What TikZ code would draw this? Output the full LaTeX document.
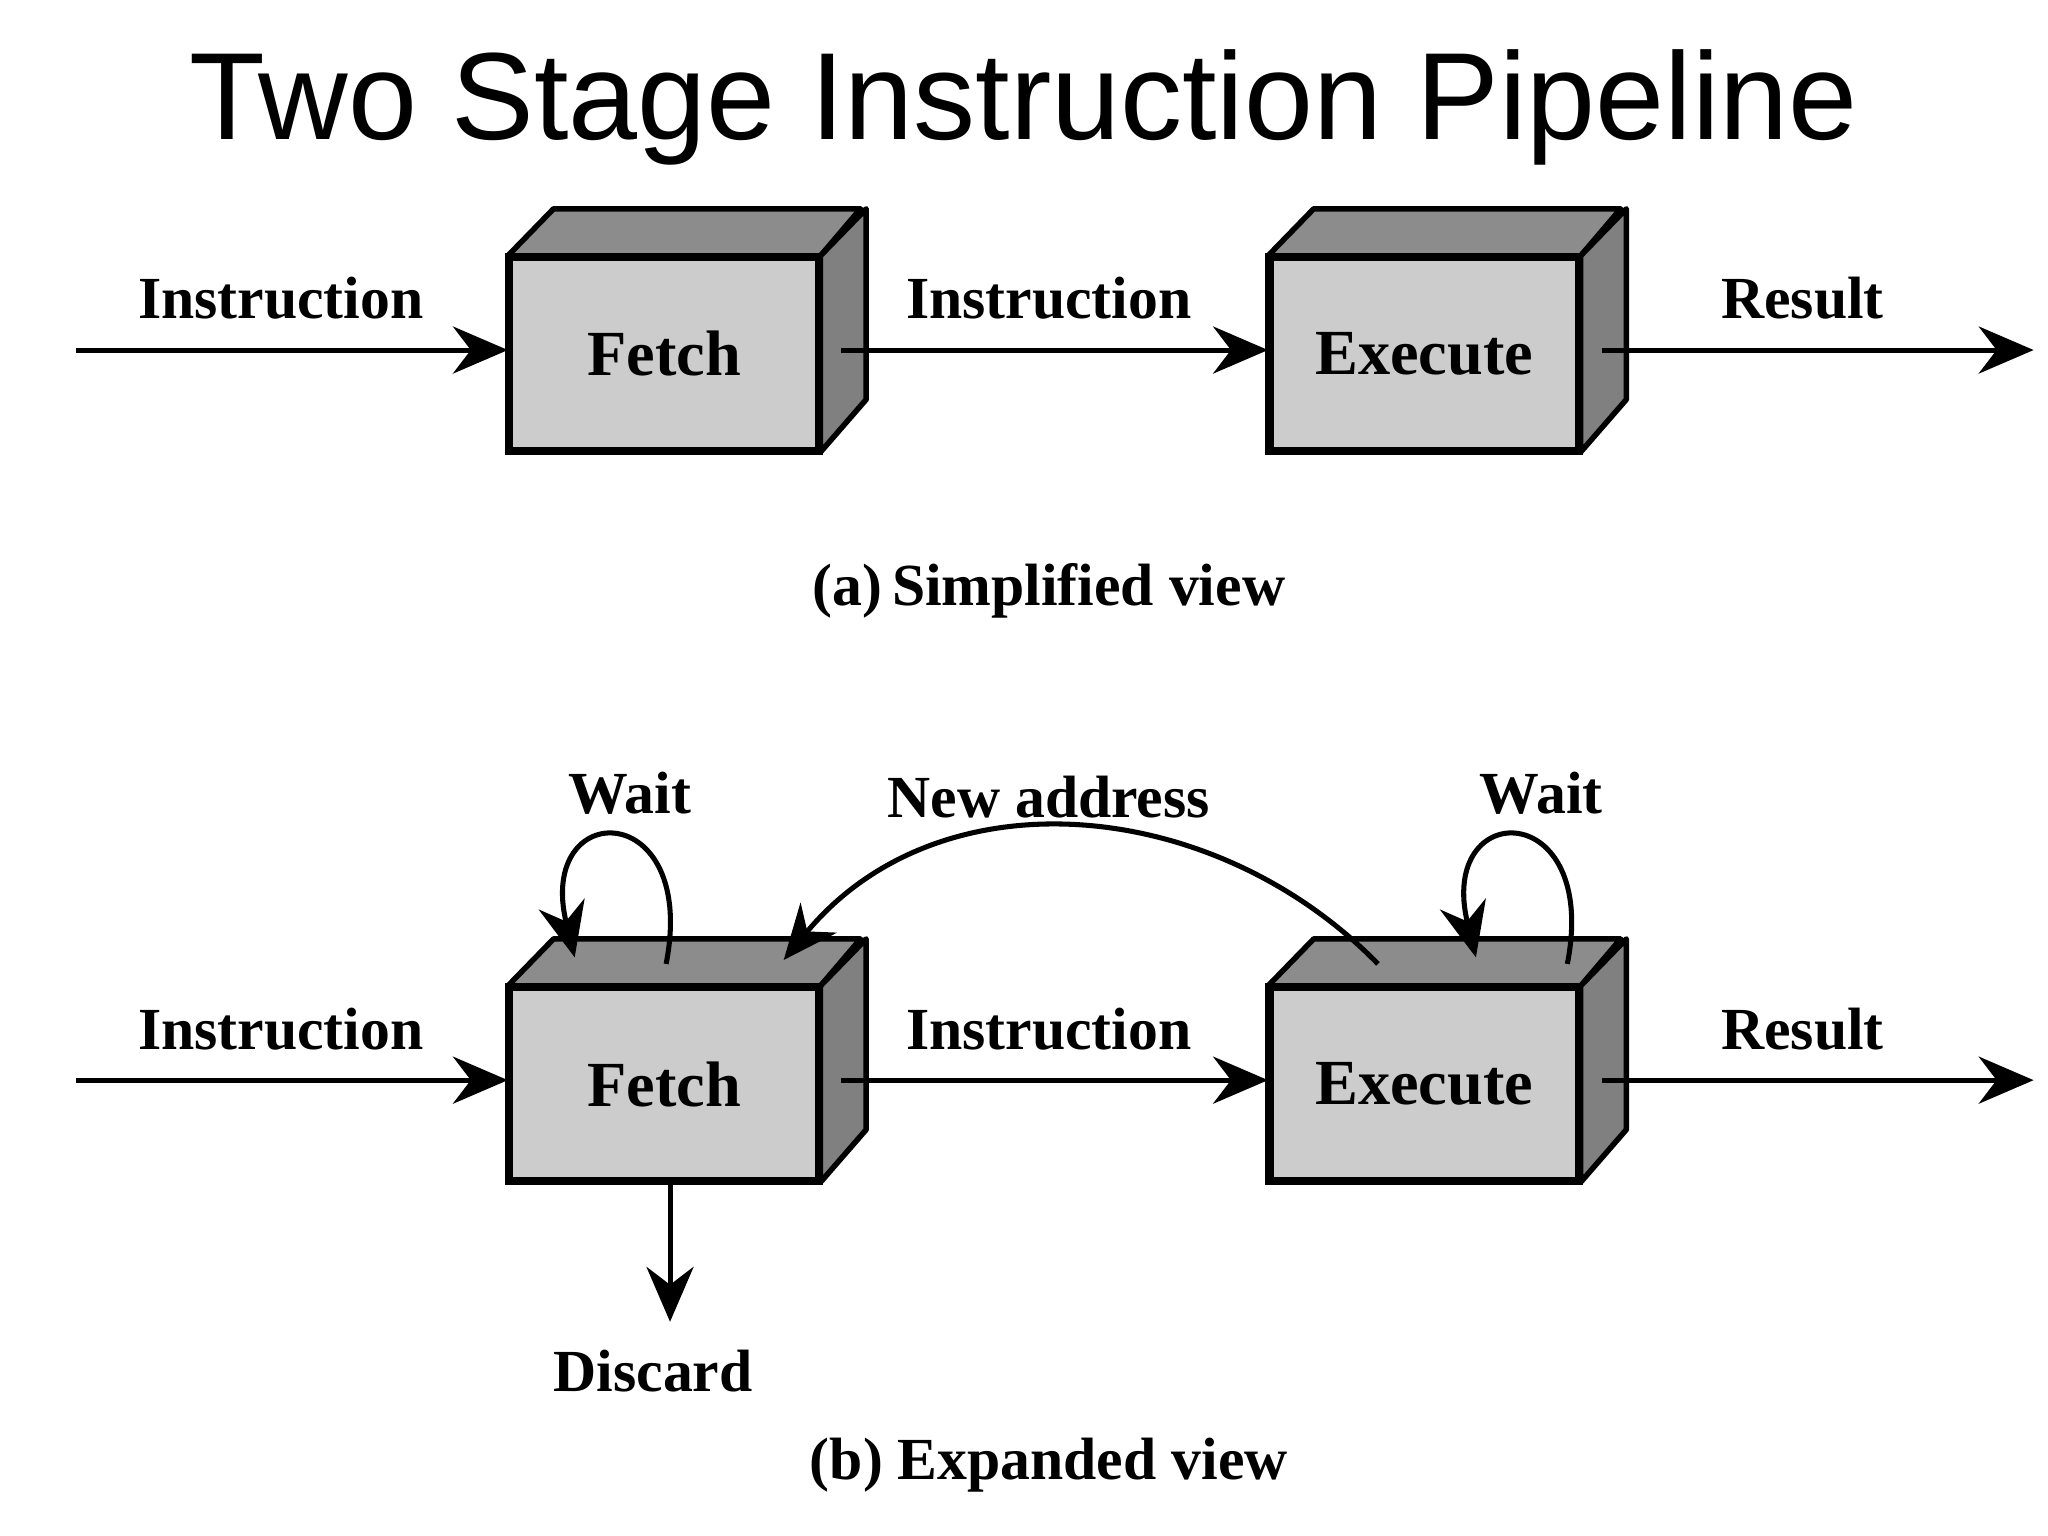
\documentclass[tikz,border=0pt]{standalone}
\usepackage{fontspec}
\setmainfont{Liberation Serif}
\newfontfamily\titlefont{Liberation Sans}
\usetikzlibrary{arrows.meta}
\begin{document}
\begin{tikzpicture}[x=0.01cm,y=-0.01cm,
  lbl/.style={font=\fontsize{13pt}{15pt}\selectfont\bfseries},
  box/.style={draw=black,line width=1.2pt,fill=black!20,minimum width=2.35cm,minimum height=1.46cm,inner sep=0pt,font=\fontsize{14pt}{16pt}\selectfont\bfseries},
  face/.style={draw=black,line width=1.2pt,line join=round},
  arr/.style={line width=1.1pt,-{Stealth[length=0.42cm,width=0.36cm]}}]
\useasboundingbox (0,0) rectangle (1568,1176);
\node[font=\titlefont\fontsize{27pt}{30pt}\selectfont] (title) at (784,82) {Two Stage Instruction Pipeline};
\newcommand{\cube}[3]{%
  \node[box] (#1) at (#2,#3) {};
  \draw[face,fill=black!45] (#1.north west) -- ++(35,-36) -- ++(235,0) -- ($(#1.north east)$) -- cycle;
  \draw[face,fill=black!50] (#1.north east) -- ++(35,-36) -- ++(0,146) -- (#1.south east) -- cycle;
  \draw[line width=1.2pt] (#1.north west) rectangle (#1.south east);
}
\usetikzlibrary{calc}
% top row
\cube{f1}{508.5}{271}
\cube{e1}{1090.5}{271}
\node[box,draw=none,fill=none] at (f1) {Fetch};
\node[box,draw=none,fill=none] at (e1) {Execute};
\coordinate (in1) at (58,268);
\coordinate (out1) at (1557,268);
\draw[arr] (in1) -- (f1.west |- in1);
\draw[arr] ($(f1.east |- in1)+(16,0)$) -- (e1.west |- in1);
\draw[arr] ($(e1.east |- in1)+(16,0)$) -- (out1);
\node[lbl] (l1) at (215,228) {Instruction};
\node[lbl] (l2) at (803,228) {Instruction};
\node[lbl] (l3) at (1380,228) {Result};
\node[lbl] (cap1) at (803,452) {(a)\,Simplified view};
% bottom row
\cube{f2}{508.5}{830}
\cube{e2}{1090.5}{830}
\node[box,draw=none,fill=none] at (f2) {Fetch};
\node[box,draw=none,fill=none] at (e2) {Execute};
\coordinate (in2) at (58,827);
\coordinate (out2) at (1557,827);
\draw[arr] (in2) -- (f2.west |- in2);
\draw[arr] ($(f2.east |- in2)+(16,0)$) -- (e2.west |- in2);
\draw[arr] ($(e2.east |- in2)+(16,0)$) -- (out2);
\node[lbl] (l4) at (215,788) {Instruction};
\node[lbl] (l5) at (803,788) {Instruction};
\node[lbl] (l6) at (1380,788) {Result};
\coordinate (d) at (513,1012);
\draw[arr] (f2.south -| d) -- (d);
\node[lbl] (disc) at (500,1050) {Discard};
\node[lbl] (cap2) at (803,1122) {(b) Expanded view};
\coordinate (fw1) at (510,738); \coordinate (fw2) at (440,733);
\draw[arr] (fw1) .. controls (535,610) and (410,610) .. (fw2);
\node[lbl] (w1) at (482,607) {Wait};
\coordinate (ew1) at (1200,738); \coordinate (ew2) at (1130,733);
\draw[arr] (ew1) .. controls (1225,610) and (1100,610) .. (ew2);
\node[lbl] (w2) at (1180,607) {Wait};
\coordinate (na1) at (1055,738); \coordinate (na2) at (600,735);
\draw[arr] (na1) .. controls (930,610) and (720,590) .. (na2);
\node[lbl] (na) at (803,610) {New address};
\end{tikzpicture}
\end{document}
